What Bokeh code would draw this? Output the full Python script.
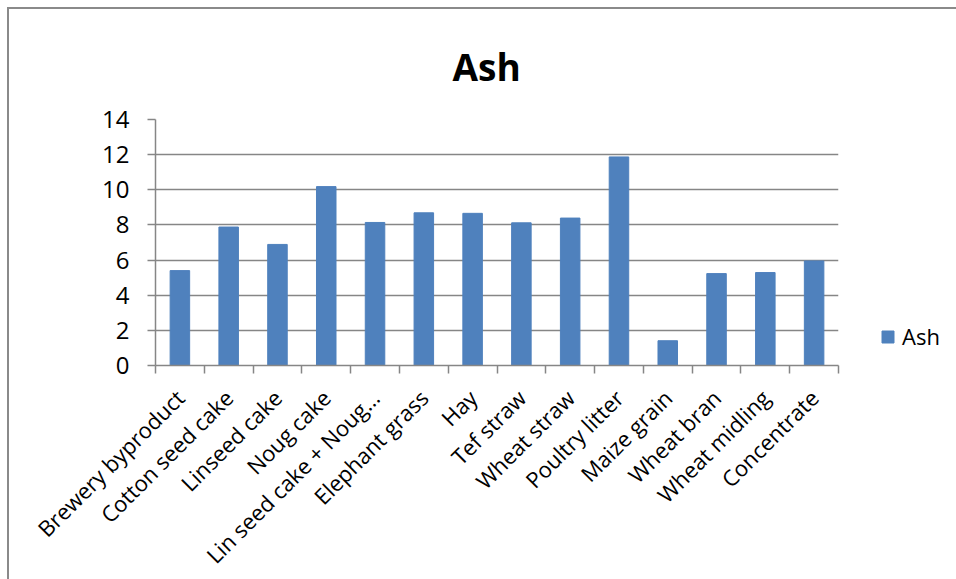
import math

from bokeh.embed import file_html
from bokeh.models import (ColumnDataSource, FixedTicker, Legend,
                          LegendItem, Range1d)
from bokeh.plotting import figure
from bokeh.resources import INLINE

# Ash content of feed ingredients
categories = ["Brewery byproduct", "Cotton seed cake", "Linseed cake", "Noug cake",
              "Lin seed cake + Noug\u2026", "Elephant grass", "Hay", "Tef straw",
              "Wheat straw", "Poultry litter", "Maize grain", "Wheat bran",
              "Wheat midling", "Concentrate"]
ash = [5.4, 7.88, 6.89, 10.18, 8.14, 8.69, 8.66, 8.12, 8.39, 11.87, 1.41, 5.23, 5.29, 5.95]
y_ticks = [0, 2, 4, 6, 8, 10, 12, 14]

FONT = "Open Sans"
GRID = "#868686"
BAR = "#4F81BD"

positions = list(range(1, len(categories) + 1))
source = ColumnDataSource(dict(x=positions, ash=ash, name=categories))

p = figure(frame_width=683, frame_height=246, output_backend="svg", toolbar_location=None,
           x_range=Range1d(0.5, len(categories) + 0.5), y_range=Range1d(0, 14),
           min_border_left=146, min_border_top=110, min_border_bottom=205,
           min_border_right=110, title="Ash")
p.styles = {"margin-left": "7px", "margin-top": "7px",
            "border-left": "2px solid #8a8a8a", "border-top": "2px solid #8a8a8a"}
p.outline_line_color = None
p.background_fill_color = "white"
p.border_fill_color = "white"

p.title.align = "left"
p.title.offset = 297
p.title.standoff = 56
p.title.text_font = FONT
p.title.text_font_size = "37px"
p.title.text_font_style = "bold"
p.title.text_color = "black"

r = p.vbar(x="x", top="ash", width=0.4, source=source,
           fill_color=BAR, line_color=BAR, line_width=1)

# axes
p.xaxis.ticker = FixedTicker(ticks=positions,
                             minor_ticks=[i + 0.5 for i in range(0, len(categories) + 1)])
p.xaxis.major_label_overrides = {i: c for i, c in zip(positions, categories)}
p.xaxis.major_label_orientation = math.pi / 4
p.xaxis.major_tick_out = 0
p.xaxis.major_tick_in = 0
p.xaxis.minor_tick_out = 8
p.xaxis.minor_tick_in = 0
p.xaxis.minor_tick_line_color = GRID
p.xaxis.minor_tick_line_width = 1.5
p.xaxis.axis_line_color = GRID
p.xaxis.axis_line_width = 1.5
p.xaxis.major_label_text_font = FONT
p.xaxis.major_label_text_font_size = "22px"
p.xaxis.major_label_text_color = "black"
p.xaxis.major_label_standoff = 20

p.yaxis.ticker = FixedTicker(ticks=y_ticks)
p.yaxis.major_tick_out = 8
p.yaxis.major_tick_in = 0
p.yaxis.minor_tick_line_color = None
p.yaxis.major_tick_line_color = GRID
p.yaxis.major_tick_line_width = 1.5
p.yaxis.axis_line_color = GRID
p.yaxis.axis_line_width = 1.5
p.yaxis.major_label_text_font = FONT
p.yaxis.major_label_text_font_size = "24px"
p.yaxis.major_label_text_color = "black"
p.yaxis.major_label_standoff = 18

p.xgrid.grid_line_color = None
p.ygrid.ticker = FixedTicker(ticks=y_ticks)
p.ygrid.grid_line_color = GRID
p.ygrid.grid_line_width = 1.5

# series key, to the right of the bars
legend = Legend(items=[LegendItem(label="Ash", renderers=[r])],
                location=(42, 14), glyph_width=15, glyph_height=15,
                label_text_font=FONT, label_text_font_size="22px",
                label_text_color="black",
                label_standoff=7, padding=0, margin=0,
                border_line_color=None, background_fill_alpha=0)
p.add_layout(legend, "right")

open("out.html", "w").write(file_html(p, INLINE))
